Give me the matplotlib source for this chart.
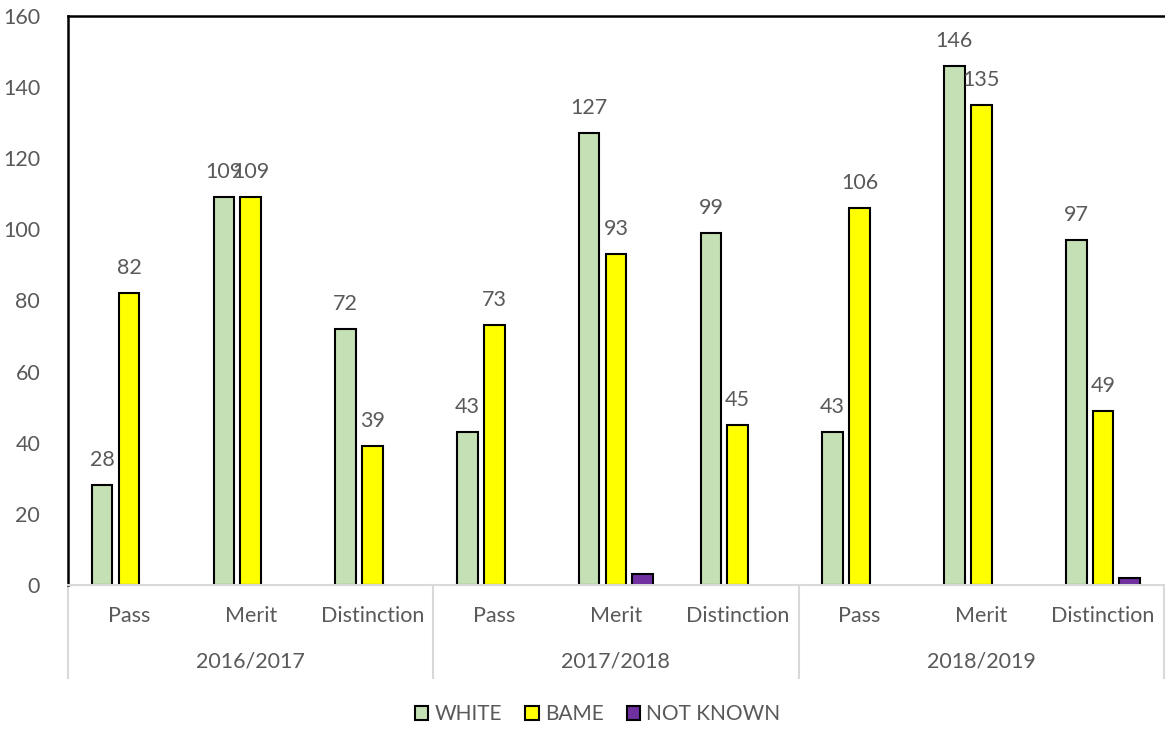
import matplotlib.pyplot as plt
from matplotlib.patches import Patch
import numpy as np

years = ["2016/2017", "2017/2018", "2018/2019"]
grades = ["Pass", "Merit", "Distinction"]
white = [28, 109, 72, 43, 127, 99, 43, 146, 97]
bame = [82, 109, 39, 73, 93, 45, 106, 135, 49]
not_known = [0, 0, 0, 0, 3, 0, 0, 0, 2]
series = ["WHITE", "BAME", "NOT KNOWN"]
colors = ['#C5E0B4', '#FFFF00', '#7030A0']

plt.rcParams['font.family'] = ['Lato', 'DejaVu Sans']
txt = '#595959'

fig = plt.figure(figsize=(11.65, 7.29), dpi=100)
ax = fig.add_axes([68/1165, 1 - 585/729, 1 - 68/1165 - 0.001, (585 - 16)/729])

x = np.arange(len(white))
w = 0.17
step = 0.22
all_bars = []
for k, vals in enumerate([white, bame, not_known]):
    bars = ax.bar(x + (k - 1)*step, vals, w, color=colors[k], edgecolor='black', linewidth=1.5)
    # hide empty bars
    for rect, v in zip(bars, vals):
        if v == 0:
            rect.set_visible(False)
    all_bars.append(bars)

for bars, vals in zip(all_bars[:2], [white, bame]):
    for rect, v in zip(bars, vals):
        ax.annotate(str(v), (rect.get_x() + rect.get_width()/2, v), xytext=(0, 18),
                    textcoords='offset points', ha='center', va='center', fontsize=15.5, color=txt)

ax.set_xlim(-0.5, len(white) - 0.5)
ax.set_ylim(0, 160)
ax.set_yticks(range(0, 161, 20))
ax.tick_params(axis='y', length=0, labelsize=15.5, labelcolor=txt, pad=20)
ax.set_xticks([])

ax.spines['right'].set_visible(False)
ax.spines['top'].set_linewidth(1.8)
ax.spines['left'].set_linewidth(1.8)
ax.spines['bottom'].set_color('#d9d9d9')
ax.spines['bottom'].set_linewidth(1.5)

trans = ax.get_xaxis_transform()
for i in range(len(white)):
    ax.text(i, -0.055, grades[i % 3], transform=trans, ha='center', va='center', fontsize=15.5, color=txt)
for j, yr in enumerate(years):
    ax.text(3*j + 1, -0.135, yr, transform=trans, ha='center', va='center', fontsize=15.5, color=txt)
for sep in [-0.5, 2.5, 5.5, 8.5]:
    ax.plot([sep, sep], [0, -0.163], transform=trans, color='#d9d9d9', linewidth=1.5, clip_on=False)

handles = [Patch(facecolor=c, edgecolor='black', linewidth=1.5, label=s) for c, s in zip(colors, series)]
ax.legend(handles=handles, loc='center', bbox_to_anchor=(0.513, (729 - 714)/729), bbox_transform=fig.transFigure,
          ncol=3, frameon=False, fontsize=15, labelcolor=txt, handlelength=0.65, handleheight=0.65,
          handletextpad=0.3, columnspacing=1.1)

fig.savefig('out.png', dpi=100)
